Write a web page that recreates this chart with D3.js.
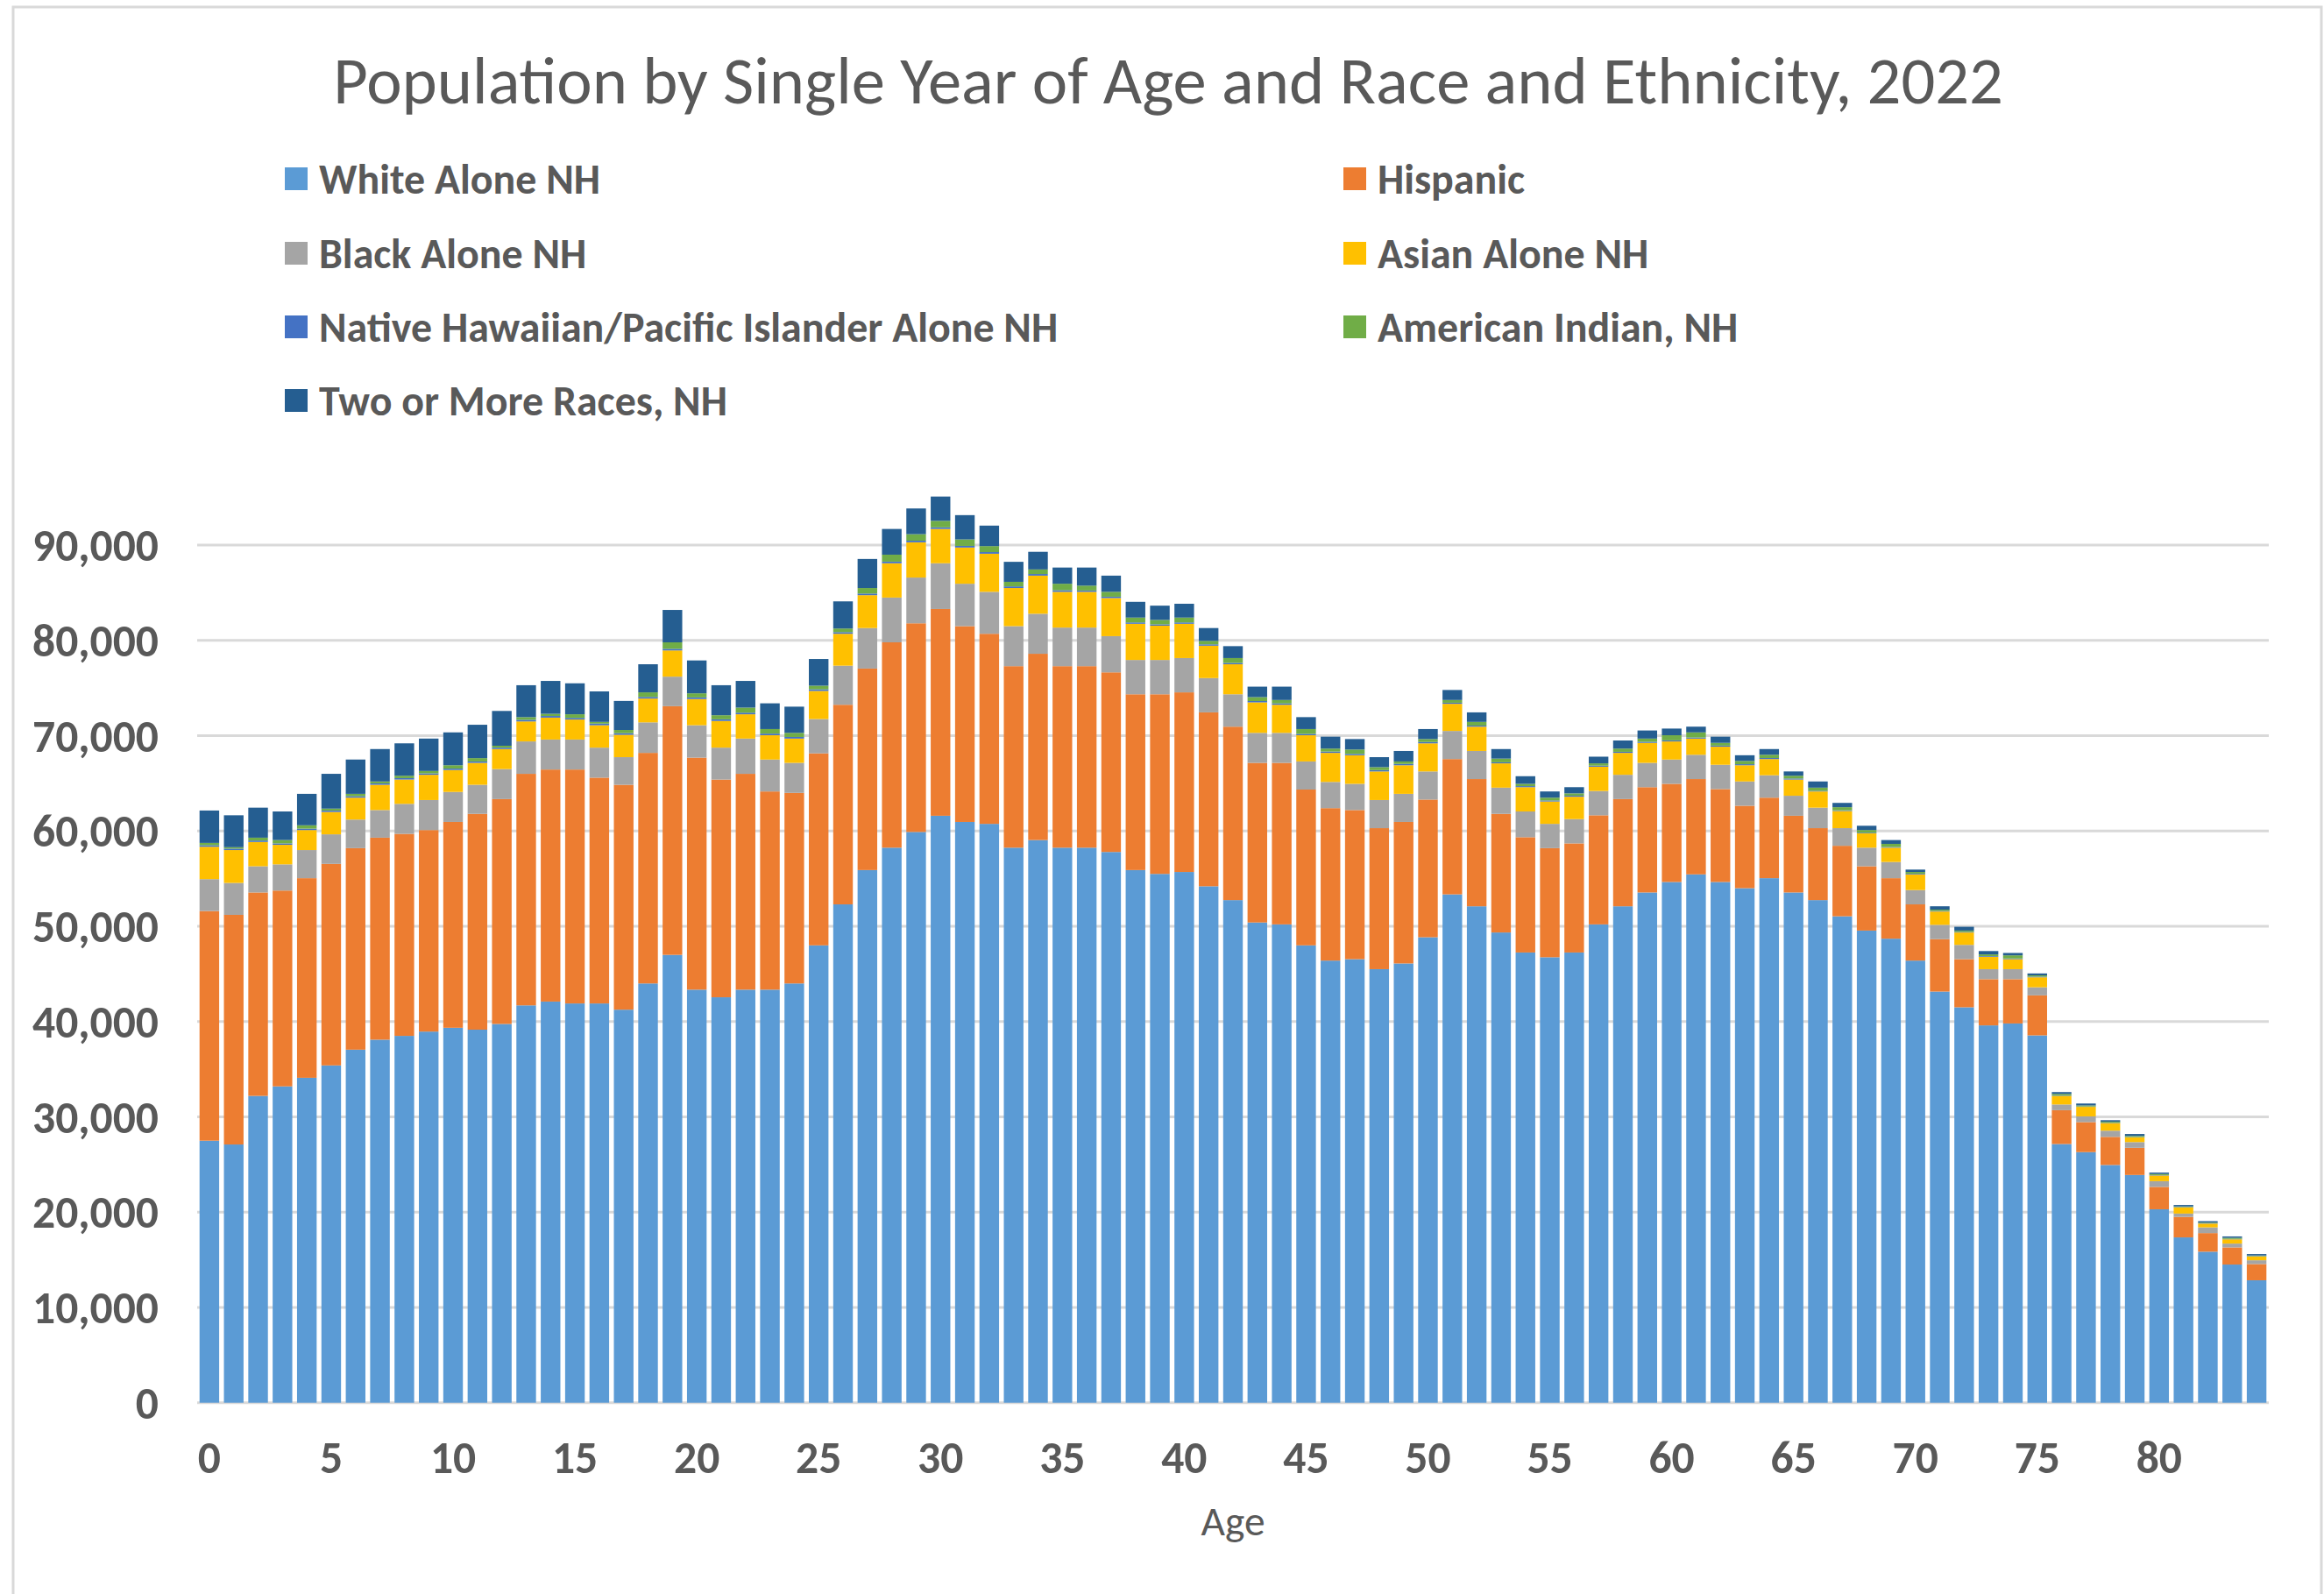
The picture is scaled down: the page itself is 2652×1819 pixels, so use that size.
<!DOCTYPE html>
<html><head><meta charset="utf-8">
<script src="https://cdn.jsdelivr.net/npm/d3@7"></script>
<style>html,body{margin:0;padding:0;background:#fff}</style>
</head><body>
<svg id="chart" width="2652" height="1819"></svg>
<script>
const ages = [0,1,2,3,4,5,6,7,8,9,10,11,12,13,14,15,16,17,18,19,20,21,22,23,24,25,26,27,28,29,30,31,32,33,34,35,36,37,38,39,40,41,42,43,44,45,46,47,48,49,50,51,52,53,54,55,56,57,58,59,60,61,62,63,64,65,66,67,68,69,70,71,72,73,74,75,76,77,78,79,80,81,82,83,84];

const whiteNH = [27500,27100,32200,33200,34100,35400,37050,38100,38500,38950,39350,39150,39750,41700,42100,41900,41900,41250,44000,47000,43350,42550,43350,43350,44000,48000,52300,55900,58250,59900,61600,60950,60750,58250,59050,58250,58250,57800,55900,55500,55700,54200,52750,50400,50200,48000,46400,46550,45500,46100,48850,53350,52100,49350,47250,46750,47250,50200,52100,53550,54650,55450,54650,54000,55050,53550,52750,51050,49550,48700,46400,43150,41500,39600,39800,38550,27150,26300,24950,23900,20300,17350,15850,14500,12850];

const hispanic = [24100,24100,21350,20550,20950,21150,21150,21200,21200,21150,21600,22650,23600,24300,24350,24550,23700,23600,24200,26100,24350,22850,22650,20800,20000,20150,20950,21150,21550,21900,21700,20550,19950,19050,19550,19050,19050,18850,18450,18850,18850,18250,18200,16750,16950,16350,16000,15650,14800,14850,14450,14200,13350,12450,12100,11450,11450,11450,11250,11050,10300,10000,9750,8650,8450,8050,7550,7400,6750,6350,5900,5500,5050,4850,4650,4200,3550,3150,2950,2850,2350,2150,1950,1800,1700];

const blackNH = [3350,3350,2750,2750,2950,3100,3000,2900,3150,3150,3150,3050,3150,3400,3150,3150,3150,2900,3200,3100,3400,3350,3700,3350,3150,3600,4100,4250,4700,4800,4800,4450,4400,4200,4200,4050,4050,3800,3600,3600,3600,3600,3400,3150,3150,2950,2750,2750,2950,2950,2950,2950,2950,2750,2700,2550,2550,2550,2550,2550,2550,2550,2550,2550,2350,2100,2150,1850,1950,1700,1500,1500,1500,1050,1050,850,600,600,650,600,600,350,600,400,400];

const asianNH = [3400,3450,2550,2050,2100,2350,2300,2650,2550,2650,2300,2300,2100,2100,2300,2100,2350,2350,2500,2750,2750,2800,2550,2550,2550,2950,3350,3450,3600,3700,3600,3800,4000,4000,4000,3750,3750,4000,3800,3600,3600,3400,3150,3200,2950,2750,3050,3000,3000,3000,2950,2850,2550,2550,2550,2350,2350,2550,2300,2100,1900,1700,1900,1700,1700,1700,1700,1800,1500,1500,1650,1400,1300,1300,1050,1050,900,1000,800,500,600,650,400,450,400];

const nhpiNH = [150,150,150,150,150,150,150,150,150,150,150,150,150,170,170,170,170,170,170,170,170,170,170,170,170,170,170,170,170,170,170,170,170,170,170,170,140,140,140,140,140,140,140,140,140,140,140,140,140,140,140,110,110,110,110,110,110,110,110,110,110,110,110,110,110,110,70,70,70,70,70,70,70,70,70,70,40,40,40,40,40,40,40,40,40];

const amIndianNH = [250,150,300,350,350,200,250,200,250,250,350,350,200,280,230,380,180,330,480,680,430,430,530,480,430,380,380,580,730,680,680,680,630,480,480,680,510,510,510,460,510,360,510,410,360,510,310,460,310,260,310,290,390,390,240,290,240,240,340,340,540,540,290,340,340,290,330,330,280,330,180,130,130,180,330,130,160,110,110,110,110,60,60,110,60];

const twoPlusNH = [3400,3350,3150,3000,3300,3650,3600,3400,3400,3400,3450,3500,3650,3350,3450,3250,3200,3050,2950,3400,3450,3150,2800,2700,2750,2800,2850,3050,2700,2700,2550,2550,2150,2100,1850,1700,1900,1700,1650,1500,1450,1350,1250,1100,1400,1250,1250,1100,1050,1100,1050,1050,1000,1000,800,650,650,700,850,850,700,600,650,600,600,450,650,450,450,400,250,350,400,350,250,200,200,200,150,200,150,150,150,150,150];

const seriesNames = ["White Alone NH","Hispanic","Black Alone NH","Asian Alone NH","Native Hawaiian/Pacific Islander Alone NH","American Indian, NH","Two or More Races, NH"];
const seriesData = [whiteNH, hispanic, blackNH, asianNH, nhpiNH, amIndianNH, twoPlusNH];
const seriesColors = ["#5B9BD5","#ED7D31","#A5A5A5","#FFC000","#4472C4","#70AD47","#255E91"];
const xTickLabels = [0,5,10,15,20,25,30,35,40,45,50,55,60,65,70,75,80];
const yTicks = [0,10000,20000,30000,40000,50000,60000,70000,80000,90000];
const titleText = "Population by Single Year of Age and Race and Ethnicity, 2022";
const xAxisTitle = "Age";

const svg = d3.select("#chart");
const FONT = "Carlito, Calibri, Lato, 'Open Sans', sans-serif";
const TXT = "#595959";

// outer border
svg.append("rect").attr("x",15).attr("y",8).attr("width",2634).attr("height",1830)
  .attr("fill","none").attr("stroke","#d9d9d9").attr("stroke-width",3);

const table = ages.map((a,i) => {
  const row = {age:a};
  seriesNames.forEach((n,k) => row[n] = seriesData[k][i]);
  return row;
});

const left = 225, right = 2589, y0 = 1600.7, y90 = 622.1;
const x = d3.scaleBand().domain(ages).range([left,right]).paddingInner(0.195).paddingOuter(0.0975);
const y = d3.scaleLinear().domain([0,90000]).range([y0,y90]);

function fitSize(text, weight, target, base) {
  const t = svg.append("text").attr("font-family",FONT).attr("font-weight",weight)
    .attr("font-size",base).text(text);
  const w = t.node().getComputedTextLength();
  t.remove();
  return base*target/w;
}

// gridlines
svg.append("g").selectAll("line").data(yTicks).join("line")
  .attr("x1",left).attr("x2",right)
  .attr("y1",d=>y(d)).attr("y2",d=>y(d))
  .attr("stroke","#d9d9d9").attr("stroke-width",3);

// bars
const stack = d3.stack().keys(seriesNames)(table);
svg.append("g").selectAll("g").data(stack).join("g")
  .attr("fill",(d,i)=>seriesColors[i])
  .selectAll("rect").data(d=>d).join("rect")
  .attr("x",d=>x(d.data.age))
  .attr("width",x.bandwidth())
  .attr("y",d=>y(d[1]))
  .attr("height",d=>Math.max(0,y(d[0])-y(d[1])));

// y axis labels
const tickFs = fitSize("90,000","bold",144,40);
const yAxis = d3.axisLeft(y).tickValues(yTicks).tickSize(0).tickPadding(0)
  .tickFormat(d3.format(","));
const ya = svg.append("g").attr("transform",`translate(181,0)`).call(yAxis);
ya.select(".domain").remove();
ya.selectAll("text").attr("font-family",FONT).attr("font-weight","bold")
  .attr("font-size",tickFs).attr("fill",TXT).attr("x",0).attr("dy",null)
  .attr("dominant-baseline","central").attr("y",0);

// x axis labels
const xAxis = d3.axisBottom(x).tickValues(xTickLabels).tickSize(0).tickPadding(0);
const xa = svg.append("g").attr("transform",`translate(0,${y0})`).call(xAxis);
xa.select(".domain").remove();
xa.selectAll("text").attr("font-family",FONT).attr("font-weight","bold")
  .attr("font-size",tickFs).attr("fill",TXT).attr("dy",null).attr("y",1681-y0);

// x axis title
const ageFs = fitSize(xAxisTitle,"normal",73,40);
svg.append("text").attr("x",(left+right)/2).attr("y",1752).attr("text-anchor","middle")
  .attr("font-family",FONT).attr("font-size",ageFs).attr("fill",TXT).text(xAxisTitle);

// title
const titleFs = fitSize(titleText,"normal",1906,60);
svg.append("text").attr("x",1333).attr("y",118).attr("text-anchor","middle")
  .attr("font-family",FONT).attr("font-size",titleFs).attr("fill",TXT).text(titleText);

// legend
const legFs = fitSize("White Alone NH","bold",321,40);
const rowY = [204,289,373,457];
const colX = [325,1533];
const lg = svg.append("g").selectAll("g").data(seriesNames).join("g")
  .attr("transform",(d,i)=>`translate(${colX[i%2]},${rowY[Math.floor(i/2)]})`);
lg.append("rect").attr("x",0).attr("y",-13).attr("width",26).attr("height",26)
  .attr("fill",(d,i)=>seriesColors[i]);
lg.append("text").attr("x",39).attr("y",0).attr("dominant-baseline","central").attr("dy",0)
  .attr("font-family",FONT).attr("font-weight","bold").attr("font-size",legFs)
  .attr("fill",TXT).text(d=>d);
</script>
</body></html>
